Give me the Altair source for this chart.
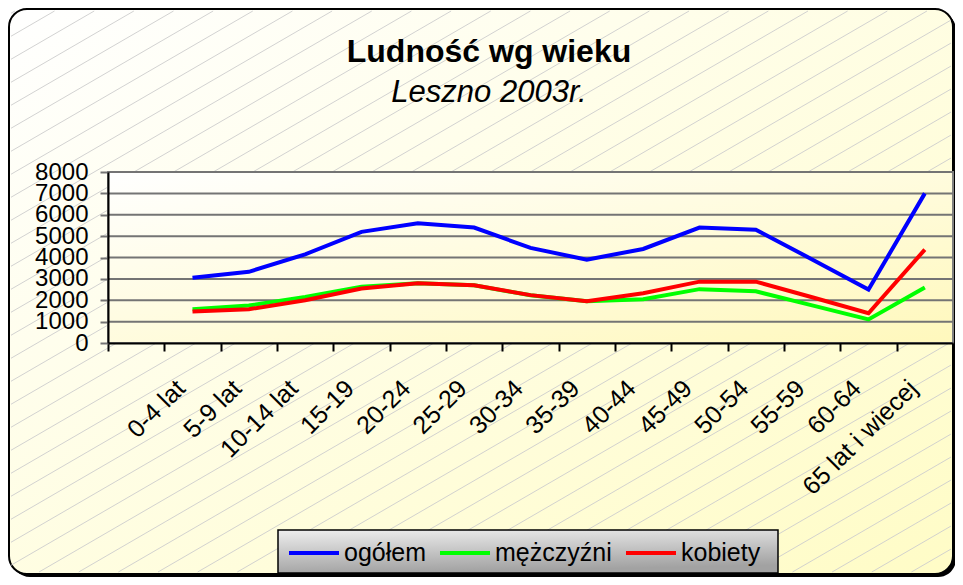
import altair as alt
import pandas as pd

# ---- data ----
age_groups = ["0-4 lat", "5-9 lat", "10-14 lat", "15-19", "20-24", "25-29", "30-34",
              "35-39", "40-44", "45-49", "50-54", "55-59", "60-64", "65 lat i wiecej"]
ogolem    = [3050, 3330, 4150, 5200, 5600, 5400, 4450, 3900, 4400, 5400, 5300, 3910, 2500, 7000]
mezczyzni = [1580, 1750, 2150, 2630, 2800, 2700, 2230, 1950, 2050, 2520, 2420, 1760, 1100, 2600]
kobiety   = [1470, 1580, 2000, 2550, 2800, 2700, 2240, 1950, 2330, 2870, 2870, 2140, 1390, 4370]
series_names = ["ogółem", "mężczyźni", "kobiety"]
series_colors = ["#0000FF", "#00FF00", "#FF0000"]
y_ticks = [0, 1000, 2000, 3000, 4000, 5000, 6000, 7000, 8000]
blank_category = " "
title_text = "Ludność wg wieku"
subtitle_text = "Leszno 2003r."

FONT = "Liberation Sans"
W, H = 845, 171

rows = []
for name, vals in zip(series_names, [ogolem, mezczyzni, kobiety]):
    for i, (g, v) in enumerate(zip(age_groups, vals)):
        rows.append({"grupa": g, "seria": name, "liczba": v, "idx": i})
df = pd.DataFrame(rows)

one = alt.Data(values=[{"k": 1}])


def grad(c0, c1, x2=1, y2=1):
    return alt.LinearGradient(
        gradient="linear",
        stops=[alt.GradientStop(color=c0, offset=0), alt.GradientStop(color=c1, offset=1)],
        x1=0, y1=0, x2=x2, y2=y2,
    )


# outer frame (shadow + rounded box)
shadow = alt.Chart(one).mark_rect(fill="black", cornerRadius=18).encode(
    x=alt.value(-96), x2=alt.value(848), y=alt.value(-160), y2=alt.value(405)
)
frame = alt.Chart(one).mark_rect(
    fill=grad("#ffffff", "#fffcc6"), stroke="black", strokeWidth=2, cornerRadius=18
).encode(x=alt.value(-99), x2=alt.value(845), y=alt.value(-163), y2=alt.value(402))

# diagonal hatch decoration
M = 0.58
L, R, T, B = -97, 843, -161, 400
hatch = (
    alt.Chart(alt.sequence(0, 48, as_="i"))
    .transform_calculate(c="-215 + 23*datum.i")
    .transform_calculate(
        xa=f"datum.c - {M}*({L}) > {B} ? (datum.c - {B})/{M} : {L}",
        ya=f"datum.c - {M}*({L}) > {B} ? {B} : datum.c - {M}*({L})",
        xb=f"datum.c - {M}*{R} < {T} ? (datum.c - ({T}))/{M} : {R}",
        yb=f"datum.c - {M}*{R} < {T} ? {T} : datum.c - {M}*{R}",
    )
    .mark_rule(color="#cdcdcd", strokeWidth=0.9)
    .encode(
        x=alt.X("xa:Q", scale=None, axis=None),
        x2="xb:Q",
        y=alt.Y("ya:Q", scale=None, axis=None),
        y2="yb:Q",
    )
)

# plot area background
plotbg = alt.Chart(one).mark_rect(
    fill=grad("#ffffff", "#fff8bc"), stroke="#808080", strokeWidth=2
).encode(x=alt.value(0), x2=alt.value(W), y=alt.value(0), y2=alt.value(H))

y_axis = alt.Axis(
    orient="left", title=None, values=y_ticks, format="d",
    labelFont=FONT, labelFontSize=24, labelColor="black", labelPadding=12,
    labelOverlap=False, labelFlush=False, labelBaseline="middle",
    tickSize=8, tickColor="#747474", tickWidth=2,
    domainColor="black", domainWidth=2, grid=False, zindex=1,
)
y_scale = alt.Scale(domain=[0, 8000])

grid = alt.Chart(pd.DataFrame({"v": y_ticks[1:]})).mark_rule(
    color="#747474", strokeWidth=2
).encode(
    y=alt.Y("v:Q", scale=y_scale, axis=y_axis),
    x=alt.value(0), x2=alt.value(W),
)

# legend background box
legbg = alt.Chart(one).mark_rect(
    fill=grad("#eeeeee", "#a2a2a2", x2=0.25, y2=1), stroke="black", strokeWidth=1.5
).encode(x=alt.value(170), x2=alt.value(670), y=alt.value(358), y2=alt.value(401))

# titles
title = alt.Chart(one).mark_text(
    text=title_text, font=FONT, fontSize=32, fontWeight="bold", color="black",
    align="center", baseline="alphabetic"
).encode(x=alt.value(381), y=alt.value(-110))
subtitle = alt.Chart(one).mark_text(
    text=subtitle_text, font=FONT, fontSize=31, fontStyle="italic", color="black",
    align="center", baseline="alphabetic"
).encode(x=alt.value(381), y=alt.value(-70))

lines = alt.Chart(df).mark_line(strokeWidth=4, strokeJoin="miter").encode(
    x=alt.X(
        "grupa:N",
        scale=alt.Scale(type="band", domain=[blank_category] + age_groups,
                        paddingInner=0, paddingOuter=0),
        bandPosition=0.5,
        axis=alt.Axis(
            orient="bottom", title=None, labelAngle=-45, labelAlign="right",
            labelBaseline="middle", labelFont=FONT, labelFontSize=25,
            labelColor="black", labelPadding=33, labelOffset=-12,
            labelOverlap=False, labelLimit=0,
            tickBand="extent", tickSize=8, tickColor="black", tickWidth=2,
            domainColor="black", domainWidth=2, grid=False, zindex=1,
        ),
    ),
    y=alt.Y("liczba:Q", scale=y_scale, axis=y_axis),
    color=alt.Color(
        "seria:N",
        scale=alt.Scale(domain=series_names, range=series_colors),
        legend=alt.Legend(
            title=None, orient="none", legendX=179, legendY=354,
            direction="horizontal", symbolType="stroke", symbolSize=2500,
            symbolStrokeWidth=4, labelFont=FONT, labelFontSize=25,
            labelColor="black", columnPadding=6, labelOffset=3, padding=0,
            labelLimit=0,
        ),
    ),
    order=alt.Order("idx:Q"),
)

chart = (
    alt.layer(shadow, frame, hatch, plotbg, grid, legbg, title, subtitle, lines)
    .properties(
        width=W, height=H,
        autosize=alt.AutoSizeParams(type="none"),
        padding={"left": 100, "top": 164, "right": 2, "bottom": 234},
        background="white",
    )
    .configure_view(stroke=None)
)

chart.save("out.html", embed_options={"renderer": "svg", "actions": False})
